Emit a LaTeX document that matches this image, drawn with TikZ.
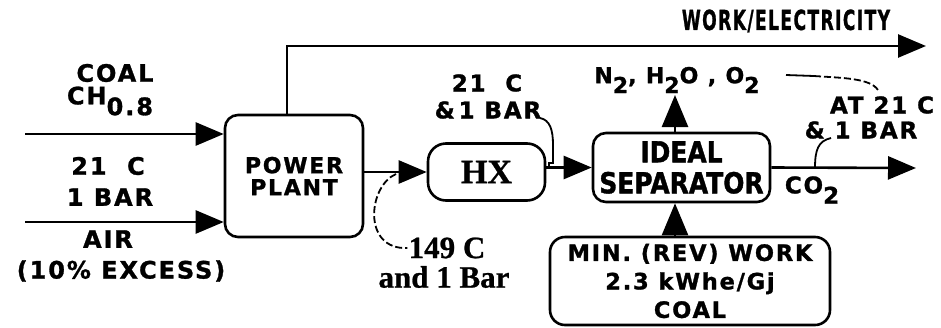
\documentclass[tikz,border=0pt]{standalone}
\usepackage{fontspec}
\setmainfont{DejaVu Sans}
\newfontfamily\pix{DejaVu Sans Bold}[LetterSpace=8,FakeBold=1.2]
\newfontfamily\pixtall{DejaVu Sans Bold}[FakeStretch=0.86,FakeBold=1.2]
\newfontfamily\serifbold{Liberation Serif Bold}[FakeBold=0.8]
\usetikzlibrary{arrows.meta}
\newcommand\lowr[1]{\raisebox{-0.45em}{#1}}
\begin{document}
\begin{tikzpicture}[x=1pt,y=-1pt,line width=2.6pt,
  arr/.style={-{Triangle[length=28pt,width=23pt]}},
  uparr/.style={-{Triangle[length=32pt,width=26pt]}},
  txt/.style={font=\pix\fontsize{24}{32}\selectfont,inner sep=0pt,align=center},
  serift/.style={font=\serifbold\fontsize{31}{29}\selectfont,inner sep=0pt,align=center},
  box/.style={draw,rounded corners=13pt,inner sep=0pt,align=center,font=\pix\fontsize{22}{22}\selectfont},
  leader/.style={line width=1.8pt},
  dleader/.style={line width=1.8pt,dash pattern=on 7pt off 3pt}]
\useasboundingbox (0,0) rectangle (941,327);

% boxes
\node[box,minimum width=138pt,minimum height=122pt] (pp) at (294,176) {POWER\\PLANT};
\node[box,rounded corners=18pt,minimum width=117pt,minimum height=57pt,
      font=\serifbold\fontsize{34}{34}\selectfont] (hx) at (486.5,172) {HX};
\node[box,minimum width=177pt,minimum height=69pt,font=\pixtall\fontsize{29}{31}\selectfont] (sep) at (681.5,167.5) {IDEAL\\SEPARATOR};
\node[box,rounded corners=15pt,minimum width=280pt,minimum height=88pt,
      font=\pix\fontsize{22.5}{28.5}\selectfont] (min) at (690,281) {MIN. (REV) WORK\\2.3 kWhe/Gj\\COAL};

% labels
\node[txt] (coal) at (115,73) {COAL};
\node[txt] (ch) at (110,101) {CH\lowr{0.8}};
\node[txt] (t21) at (108,166) {21 \ C};
\node[txt] (bar1) at (110,197) {1 BAR};
\node[txt] (air) at (108,239) {AIR};
\node[txt] (exc) at (121,271) {(10\% EXCESS)};
\node[txt,font=\pix\fontsize{22}{22}\selectfont] (work) at (786,21) {\scalebox{0.78}[1.25]{WORK/ELECTRICITY}};
\node[txt,font=\pix\fontsize{23}{23}\selectfont] (hx21) at (487,83) {21 \ C};
\node[txt,font=\pix\fontsize{23}{23}\selectfont] (hxbar) at (488,110) {\&\,1 BAR};
\node[serift] (c149) at (447,248) {149 C};
\node[serift] (and1) at (444,277) {and 1 Bar};
\node[txt,font=\pix\fontsize{22}{22}\selectfont] (gas) at (677,80) {N\lowr{2}, H\lowr{2}O , O\lowr{2}};
\node[txt,font=\pix\fontsize{23}{23}\selectfont] (co2) at (812,190) {CO\lowr{2}};
\node[txt,font=\pix\fontsize{23}{23}\selectfont] (at21) at (882,105) {AT 21 C};
\node[txt,font=\pix\fontsize{23}{23}\selectfont] (at1bar) at (861,130) {\& 1 BAR};

% free ends
\coordinate (coalin) at (25,134);
\coordinate (airin) at (25,222);
\coordinate (wcorner) at (287,46);
\coordinate (wend) at (926,46);
\coordinate (co2end) at (916,168);
\coordinate (gasbot) at (675,95);

% flows
\draw[arr] (coalin) -- (pp.west |- coalin);
\draw[arr] (airin) -- (pp.west |- airin);
\draw[arr] (pp.north -| wcorner) -- (wcorner) -- (wend);
\draw[arr] (pp.east |- hx.west) -- (hx.west);
\draw[arr] (hx.east |- sep.west) -- (sep.west);
\draw[arr] (sep.east) -- (co2end);
\draw[uparr] (sep.north -| gasbot) -- (gasbot);
\draw[uparr] (min.north -| gasbot) -- (sep.south -| gasbot);

% leaders
\coordinate (l1a) at (396,174);
\draw[dleader] (l1a) .. controls (368,186) and (362,250) .. (c149.west);
\coordinate (l2a) at (540,118);
\coordinate (l2b) at (549,168);
\draw[leader] (l2a) .. controls (550,120) and (553,130) .. (553,145) -- (553,163) -- (549,163) -- (l2b);
\coordinate (l3a) at (786,75);
\coordinate (l3b) at (814,76);
\coordinate (l3c) at (878,90);
\draw[leader] (l3a) -- (l3b);
\draw[dleader] (l3b) .. controls (842,78) and (870,78) .. (l3c);
\coordinate (l4a) at (831,138);
\coordinate (l4b) at (815,168);
\draw[leader] (l4a) .. controls (818,141) and (815,150) .. (l4b);
\end{tikzpicture}
\end{document}
